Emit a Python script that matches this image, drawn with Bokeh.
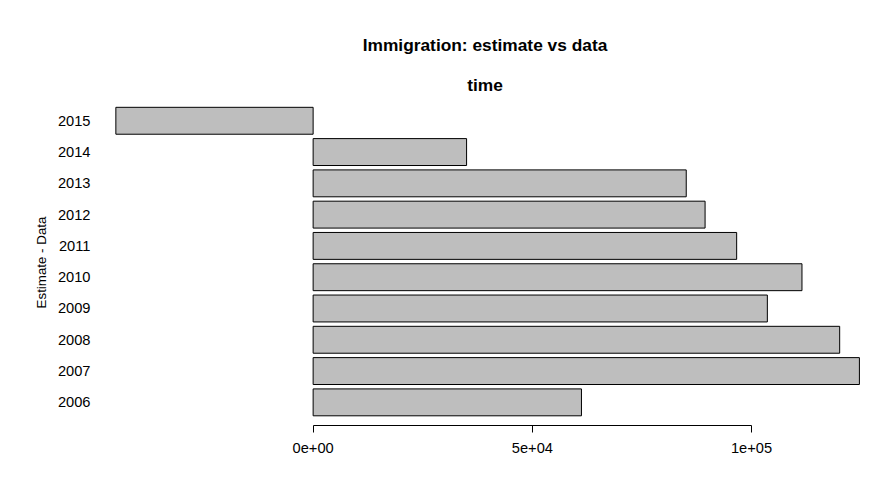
from bokeh.plotting import figure
from bokeh.models import Title, FixedTicker, ColumnDataSource
from bokeh.embed import file_html
from bokeh.resources import INLINE

years = ["2006", "2007", "2008", "2009", "2010", "2011", "2012", "2013", "2014", "2015"]
diff = [61200, 124600, 120100, 103600, 111500, 96600, 89400, 85100, 35000, -45000]
pos = list(range(1, len(years) + 1))

source = ColumnDataSource(dict(pos=pos, diff=diff, zero=[0] * len(pos)))

FONT = "Liberation Sans"

p = figure(width=871, height=469, output_backend="svg", toolbar_location=None,
           x_range=(-48500, 126900), y_range=(0.26, 10.68),
           min_border_left=100, min_border_right=2, min_border_top=99, min_border_bottom=44,
           title="Immigration: estimate vs data")
p.outline_line_color = None
p.grid.visible = False

p.hbar(y="pos", left="zero", right="diff", height=0.86, source=source,
       fill_color="#bebebe", line_color="black", line_width=1)

p.title.align = "center"
p.title.offset = -45
p.title.text_font = FONT
p.title.text_font_size = "13pt"
p.title.text_font_style = "bold"
p.title.text_color = "black"
p.title.standoff = 25

sub = Title(text="time", align="center", text_font=FONT, text_font_size="13pt",
            text_font_style="bold", text_color="black", standoff=10)
p.add_layout(sub, "above")

p.xaxis.ticker = FixedTicker(ticks=[0, 50000, 100000])
p.xaxis.major_label_overrides = {0: "0e+00", 50000: "5e+04", 100000: "1e+05"}
p.xaxis.bounds = (0, 100000)
p.xaxis.minor_tick_line_color = None
p.xaxis.major_tick_in = 0
p.xaxis.major_tick_out = 7
p.xaxis.major_label_standoff = 10
p.xaxis.major_label_text_font = FONT
p.xaxis.major_label_text_font_size = "11pt"
p.xaxis.major_label_text_color = "black"
p.xaxis.axis_line_color = "black"

p.yaxis.ticker = FixedTicker(ticks=pos)
p.yaxis.major_label_overrides = {k: v for k, v in zip(pos, years)}
p.yaxis.axis_line_color = None
p.yaxis.major_tick_line_color = None
p.yaxis.minor_tick_line_color = None
p.yaxis.major_label_standoff = 4
p.yaxis.major_label_text_font = FONT
p.yaxis.major_label_text_font_size = "11pt"
p.yaxis.major_label_text_color = "black"
p.yaxis.axis_label = "Estimate - Data"
p.yaxis.axis_label_text_font = FONT
p.yaxis.axis_label_text_font_size = "10pt"
p.yaxis.axis_label_text_font_style = "normal"
p.yaxis.axis_label_text_color = "black"
p.yaxis.axis_label_standoff = 6

open("out.html", "w").write(file_html(p, INLINE))
